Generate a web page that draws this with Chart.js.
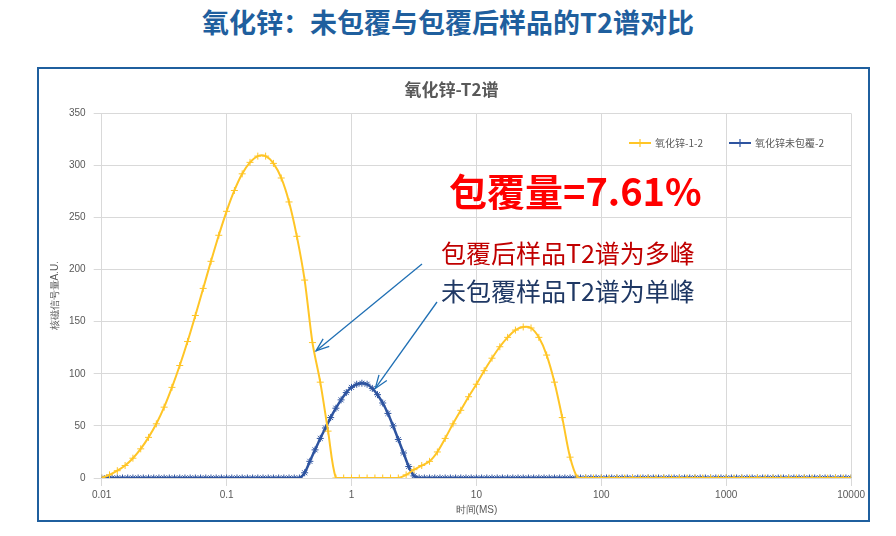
<!DOCTYPE html>
<html><head><meta charset="utf-8">
<script src="https://cdn.jsdelivr.net/npm/chart.js@4/dist/chart.umd.min.js"></script>
<style>
body{margin:0;background:#fff;font-family:"Noto Sans CJK SC","Noto Sans",sans-serif;}
#t{position:absolute;left:0;top:2px;width:896px;text-align:center;font-size:27px;font-weight:bold;color:#1f5f9e;}
#box{position:absolute;left:37px;top:67px;width:829px;height:451px;border:2px solid #1f5f9e;}
</style></head><body>
<div id="t">氧化锌：未包覆与包覆后样品的T2谱对比</div>
<div id="box"><canvas id="c" width="829" height="451"></canvas></div>
<script>
// 对数坐标上的采样点：黄色 16点/十倍程，蓝色 24点/十倍程
const xTicks = [0.01, 0.1, 1, 10, 100, 1000, 10000];
const yellowVals = [0,3,7,12,19,28,39,52,68,87,108,131,156,182,208,233,
  256,276,292,303,309,309,302,288,265,232,190,130,92,45,0,0,
  0,0,0,0,0,0,0,3,8,12,16,25,38,52,65,78,
  90,103,115,126,135,142,145,144,135,118,92,58,20,0,0,0,
  0,0,0,0,0,0,0,0,0,0,0,0,0,0,0,0,
  0,0,0,0,0,0,0,0,0,0,0,0,0,0,0,0,0];
const blueVals = [0,0,0,0,0,0,0,0,0,0,0,0,0,0,0,0,0,0,0,0,0,0,0,0,
  0,0,0,0,0,0,0,0,0,0,0,0,0,0,0,5,16,27,38,48,58,67,75,82,
  87,90,91,90,86,80,72,62,50,37,24,11,2,0,0,0,0,0,0,0,0,0,0,0,
  0,0,0,0,0,0,0,0,0,0,0,0,0,0,0,0,0,0,0,0,0,0,0,0,
  0,0,0,0,0,0,0,0,0,0,0,0,0,0,0,0,0,0,0,0,0,0,0,0,
  0,0,0,0,0,0,0,0,0,0,0,0,0,0,0,0,0,0,0,0,0,0,0,0,0];
const names = ['氧化锌-1-2', '氧化锌未包覆-2'];
const yellow = '#ffc526', blue = '#2e54a0';

const pts = (vals, perDec) => vals.map((v, i) => ({x: Math.pow(10, -2 + i / perDec), y: v}));

const overlay = {
  id: 'overlay',
  afterDraw(chart) {
    const ctx = chart.ctx, xs = chart.scales.x, ys = chart.scales.y;
    ctx.save();
    // 图例
    ctx.font = '10px "Noto Sans CJK SC"';
    ctx.fillStyle = '#595959';
    ctx.textBaseline = 'middle';
    const ly = 74;
    [[names[0], yellow, 590], [names[1], blue, 690]].forEach(([n, col, lx]) => {
      ctx.strokeStyle = col; ctx.lineWidth = 2;
      ctx.beginPath(); ctx.moveTo(lx, ly); ctx.lineTo(lx + 22, ly); ctx.stroke();
      ctx.lineWidth = 1.2;
      ctx.beginPath(); ctx.moveTo(lx + 11, ly - 4); ctx.lineTo(lx + 11, ly + 4); ctx.stroke();
      ctx.fillText(n, lx + 26, ly);
    });
    // 标注文字
    ctx.textBaseline = 'alphabetic';
    ctx.fillStyle = '#ff0000';
    ctx.font = 'bold 38px "Noto Sans CJK SC"';
    ctx.fillText('包覆量=7.61%', 410, 137);
    ctx.font = '25px "Noto Sans CJK SC"';
    ctx.fillStyle = '#c00000';
    ctx.fillText('包覆后样品T2谱为多峰', 402, 194);
    ctx.fillStyle = '#1f3864';
    ctx.fillText('未包覆样品T2谱为单峰', 402, 232);
    // 箭头
    const arrow = (x0, y0, x1, y1) => {
      ctx.strokeStyle = '#1f6fb4'; ctx.lineWidth = 1.3;
      ctx.beginPath(); ctx.moveTo(x0, y0); ctx.lineTo(x1, y1); ctx.stroke();
      const a = Math.atan2(y1 - y0, x1 - x0), L = 14;
      ctx.beginPath();
      ctx.moveTo(x1 - L * Math.cos(a - 0.35), y1 - L * Math.sin(a - 0.35));
      ctx.lineTo(x1, y1);
      ctx.lineTo(x1 - L * Math.cos(a + 0.35), y1 - L * Math.sin(a + 0.35));
      ctx.stroke();
    };
    arrow(383, 195, xs.getPixelForValue(0.52), ys.getPixelForValue(122));
    arrow(398, 233, xs.getPixelForValue(1.55), ys.getPixelForValue(86));
    ctx.restore();
  }
};

new Chart(document.getElementById('c'), {
  type: 'line',
  data: {
    datasets: [
      {label: names[0], data: pts(yellowVals, 16), borderColor: yellow, backgroundColor: yellow,
       borderWidth: 2, pointStyle: 'cross', pointRadius: 3.5, pointBorderWidth: 1, tension: 0.3},
      {label: names[1], data: pts(blueVals, 24), borderColor: blue, backgroundColor: blue,
       borderWidth: 2.5, pointStyle: 'star', pointRadius: 3.5, pointBorderWidth: 1, tension: 0.3}
    ]
  },
  options: {
    responsive: false, animation: false,
    layout: {padding: {left: 10, right: 14, top: 0, bottom: 4}},
    plugins: {
      legend: {display: false},
      tooltip: {enabled: false},
      title: {display: true, text: '氧化锌-T2谱', color: '#595959',
        font: {size: 17, weight: 'bold', family: '"Noto Sans CJK SC"'}, padding: {top: 10, bottom: 14}}
    },
    scales: {
      x: {
        type: 'logarithmic', min: 0.01, max: 10000,
        afterBuildTicks: s => { s.ticks = xTicks.map(v => ({value: v})); },
        ticks: {callback: v => String(v), color: '#595959', font: {size: 10}, maxRotation: 0, autoSkip: false},
        grid: {color: '#d9d9d9'},
        border: {color: '#d9d9d9'},
        title: {display: true, text: '时间(MS)', color: '#595959', font: {size: 10}, padding: 0}
      },
      y: {
        min: 0, max: 350,
        ticks: {stepSize: 50, color: '#595959', font: {size: 10}, padding: 8},
        grid: {color: '#d9d9d9'},
        border: {display: false},
        title: {display: true, text: '核磁信号量A.U.', color: '#595959', font: {size: 10}, padding: 0}
      }
    }
  },
  plugins: [overlay]
});
</script>
</body></html>
